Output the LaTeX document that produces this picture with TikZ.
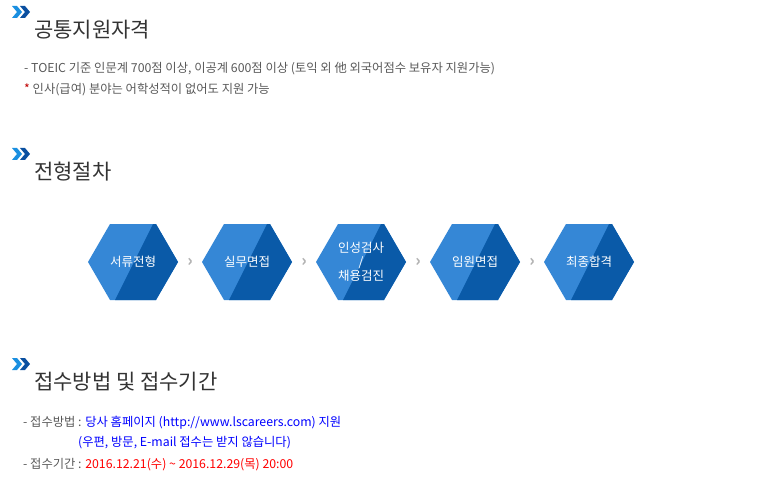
\documentclass[tikz,border=0pt]{standalone}
\usepackage{fontspec}
\setmainfont{Noto Sans CJK KR}
\begin{document}
\begin{tikzpicture}[x=1pt,y=-1pt,
 title/.style={anchor=west,font=\fontsize{21}{22}\selectfont,text=black!80,inner sep=0},
 body/.style={anchor=west,font=\fontsize{12.3}{14}\selectfont,text=black!65,inner sep=0},
 hexlbl/.style={font=\fontsize{12.5}{13}\selectfont,text=white,align=center,inner sep=0},
 sep/.style={text=black!30,font=\bfseries\fontsize{16}{16}\selectfont}]
\useasboundingbox (0,0) rectangle (758,492);
\definecolor{hl}{HTML}{3587D6}\definecolor{hd}{HTML}{0A5AA8}
\definecolor{ic1}{HTML}{1A8FE0}\definecolor{ic2}{HTML}{0A4FA0}
\newcommand\icon[2]{%
 \fill[ic1] (#1,#2) -- ++(5,0) -- ++(5,6) -- ++(-5,6) -- ++(-5,0) -- ++(5,-6) -- cycle;
 \fill[ic2] (#1+8,#2) -- ++(5,0) -- ++(5,6) -- ++(-5,6) -- ++(-5,0) -- ++(5,-6) -- cycle;}
\icon{12}{6}
\node[title] (t1) at (34,30) {공통지원자격};
\node[body] (b1) at (24,69) {- TOEIC 기준 인문계 700점 이상, 이공계 600점 이상 (토익 외 他 외국어점수 보유자 지원가능)};
\node[body] (b2) at (24,90) {{\color{red!75!black}*} 인사(급여) 분야는 어학성적이 없어도 지원 가능};
\icon{12}{148}
\node[title] (t2) at (34,172) {전형절차};
\newcommand\hexa[4]{%
 \fill[hl] (#1-45,#2) -- (#1-23,#2-38) -- (#1+23,#2-38) -- (#1+45,#2) -- (#1+23,#2+38) -- (#1-23,#2+38) -- cycle;
 \fill[hd] (#1+20,#2-38) -- (#1+23,#2-38) -- (#1+45,#2) -- (#1+23,#2+38) -- (#1-18,#2+38) -- cycle;
 \node[hexlbl] (#3) at (#1,#2) {#4};}
\hexa{133}{262}{h1}{서류전형}
\hexa{247}{262}{h2}{실무면접}
\hexa{361}{262}{h3}{인성검사\\[1pt]/\\[1pt]채용검진}
\hexa{475}{262}{h4}{임원면접}
\hexa{589}{262}{h5}{최종합격}
\node[sep] (s1) at (190,262) {›};
\node[sep] (s2) at (304,262) {›};
\node[sep] (s3) at (418,262) {›};
\node[sep] (s4) at (532,262) {›};
\icon{12}{358}
\node[title] (t3) at (34,382) {접수방법 및 접수기간};
\node[body] (c1) at (23,423) {- 접수방법 : {\color{blue}당사 홈페이지 (http://www.lscareers.com) 지원}};
\node[body,text=blue] (c2) at (78,443) {(우편, 방문, E-mail 접수는 받지 않습니다)};
\node[body] (c3) at (23,465) {- 접수기간 : {\color{red}2016.12.21(수) \textasciitilde{} 2016.12.29(목) 20:00}};
\end{tikzpicture}
\end{document}
